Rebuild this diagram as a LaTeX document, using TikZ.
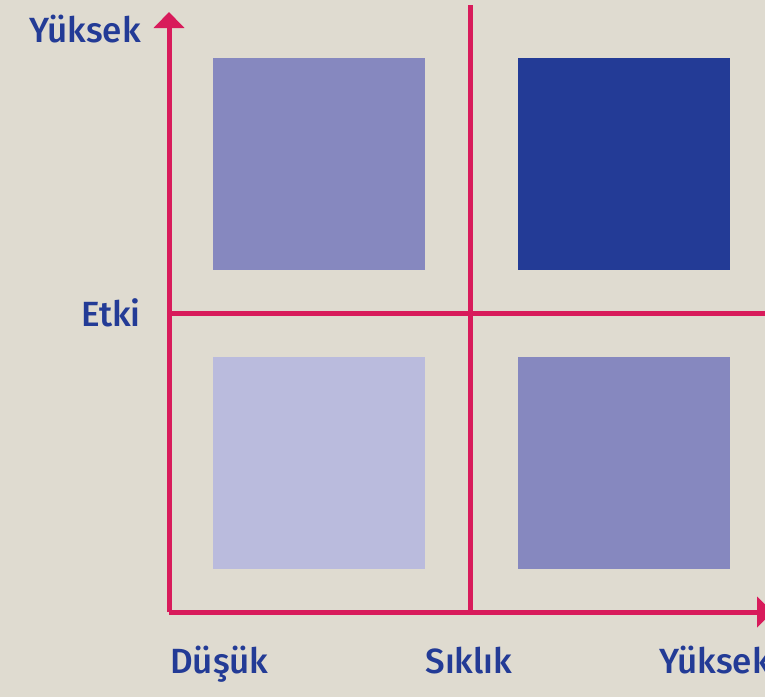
\documentclass[tikz,border=0pt]{standalone}
\usepackage{fontspec}
\setmainfont{Fira Sans}[BoldFont={Fira Sans Medium}]
\usetikzlibrary{arrows.meta}
\definecolor{bg}{HTML}{DFDBD0}
\definecolor{axisred}{HTML}{D81B5B}
\definecolor{navy}{HTML}{233B96}
\definecolor{midblue}{HTML}{8688BF}
\definecolor{paleblue}{HTML}{BABBDD}
\tikzset{
  cell/.style={draw=none, minimum size=212pt, inner sep=0pt, outer sep=0pt},
  axisline/.style={draw=axisred, line width=5pt},
  axisarrow/.style={axisline, -{Triangle[width=30pt,length=16pt]}},
  lbl/.style={text=navy, font=\fontsize{35}{40}\selectfont\bfseries, inner sep=0pt},
}
\begin{document}
\begin{tikzpicture}[x=1pt,y=-1pt]
  \useasboundingbox[fill=bg] (0,0) rectangle (765,697);

  % quadrant squares
  \node[cell, fill=midblue]  (tl) at (319,164) {};
  \node[cell, fill=navy]     (tr) at (624,164) {};
  \node[cell, fill=paleblue] (bl) at (319,463) {};
  \node[cell, fill=midblue]  (br) at (624,463) {};

  % axis reference points
  \coordinate (o)     at (169,612);
  \coordinate (ytop)  at (169,12);
  \coordinate (xend)  at (773,612);
  \coordinate (mtop)  at (470,5);
  \coordinate (mbot)  at (470,612);
  \coordinate (hleft) at (169,313);
  \coordinate (hright)at (770,313);

  % dividers
  \draw[axisline] (mtop) -- (mbot);
  \draw[axisline] (hleft) -- (hright);

  % axes
  \draw[axisarrow] (o) -- (ytop);
  \draw[axisarrow] (o) -- (xend);

  % labels
  \node[lbl, anchor=base east] (yhigh) at (141,42) {Yüksek};
  \node[lbl, anchor=base east] (impact) at (141,326) {Etki};
  \node[lbl, anchor=base west] (xlow) at (170,673) {Düşük};
  \node[lbl, anchor=base] (freq) at (469,673) {Sıklık};
  \node[lbl, anchor=base west] (xhigh) at (659,673) {Yüksek};
\end{tikzpicture}
\end{document}
